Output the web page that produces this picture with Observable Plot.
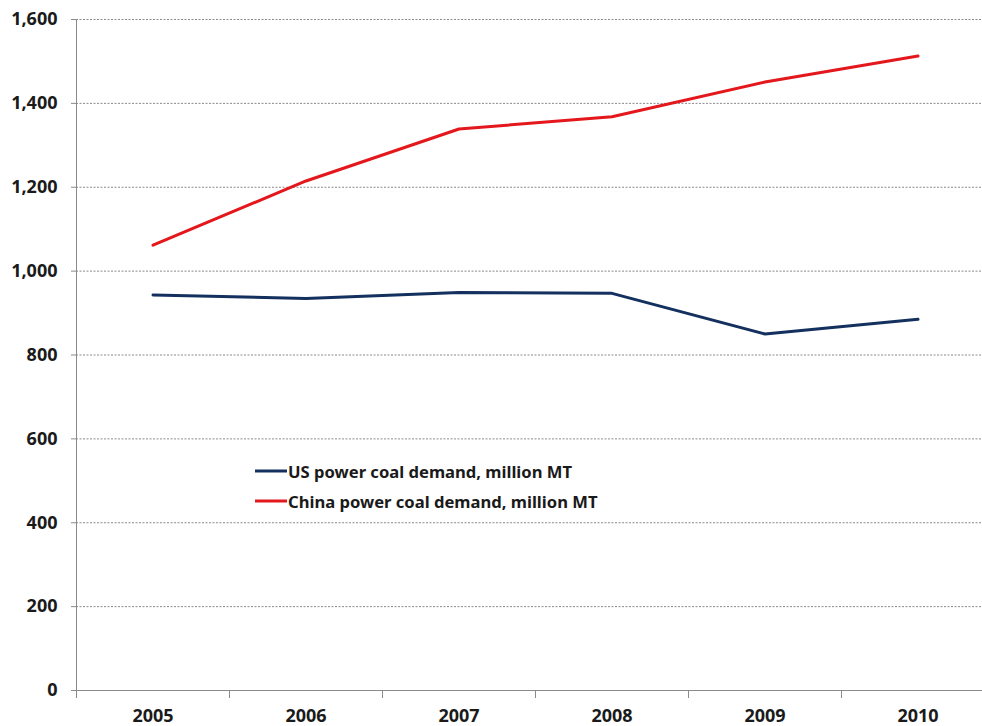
<!DOCTYPE html>
<html>
<head>
<meta charset="utf-8">
<script src="https://cdn.jsdelivr.net/npm/d3@7"></script>
<script src="https://cdn.jsdelivr.net/npm/@observablehq/plot@0.6"></script>
<style>
  html, body { margin: 0; padding: 0; background: #fff; overflow: hidden; }
  #wrap { position: relative; width: 982px; height: 726px; }
  #legend { position: absolute; left: 255px; top: 456px; font-family: "Noto Sans", sans-serif; font-weight: 700; font-size: 16.6px; color: #1a1a1a; }
  .item { display: flex; align-items: center; height: 30px; }
  .item svg { display: block; margin-right: 1px; }
</style>
</head>
<body>
<div id="wrap"></div>
<script>
// Power-sector coal demand, million metric tonnes
const years = [2005, 2006, 2007, 2008, 2009, 2010];
const usDemand = [943, 935, 949, 947, 850, 885];
const chinaDemand = [1062, 1215, 1339, 1368, 1451, 1513];
const yTicks = [0, 200, 400, 600, 800, 1000, 1200, 1400, 1600];
const seriesNames = ["US power coal demand, million MT", "China power coal demand, million MT"];
const seriesColors = ["#14305e", "#e3171c"];

// category boundaries between the years
const boundaries = [2004.5, 2005.5, 2006.5, 2007.5, 2008.5, 2009.5];

const rows = [
  ...years.map((year, i) => ({year, value: usDemand[i], series: seriesNames[0]})),
  ...years.map((year, i) => ({year, value: chinaDemand[i], series: seriesNames[1]}))
];

const font = "Noto Sans, sans-serif";

const chart = Plot.plot({
  width: 982,
  height: 726,
  marginLeft: 76,
  marginRight: 0,
  marginTop: 19,
  marginBottom: 36,
  style: {fontFamily: font, background: "#fff", color: "#1a1a1a"},
  x: {type: "linear", domain: [2004.5, 2010.5], range: [76, 994]},
  y: {domain: [0, 1600]},
  color: {domain: seriesNames, range: seriesColors},
  marks: [
    Plot.ruleY(yTicks.filter(d => d > 0), {stroke: "#8a8a8a", strokeWidth: 1, strokeDasharray: "2,1.5"}),
    Plot.axisY(yTicks, {
      tickSize: 5, tickPadding: 14, stroke: "#8a8a8a",
      tickFormat: d3.format(","), fontSize: 18, fontWeight: "bold", fill: "#1a1a1a", label: null
    }),
    Plot.axisX(boundaries, {tickSize: 8, stroke: "#8a8a8a", tickFormat: () => "", label: null}),
    Plot.axisX(years, {
      tickSize: 0, tickPadding: 19, tickFormat: d => String(d),
      fontSize: 18, fontWeight: "bold", fill: "#1a1a1a", label: null
    }),
    Plot.ruleX([2004.5], {stroke: "#8a8a8a", strokeWidth: 1}),
    Plot.ruleY([0], {stroke: "#8a8a8a", strokeWidth: 1}),
    Plot.line(rows, {x: "year", y: "value", z: "series", stroke: "series", strokeWidth: 3, strokeLinejoin: "round"})
  ]
});

const wrap = document.getElementById("wrap");
wrap.appendChild(chart);

// legend inside the plot area
const legend = document.createElement("div");
legend.id = "legend";
seriesNames.forEach((name, i) => {
  const item = document.createElement("div");
  item.className = "item";
  item.innerHTML = `<svg width="32" height="6"><line x1="0" x2="32" y1="3" y2="3" stroke="${seriesColors[i]}" stroke-width="3"/></svg><span>${name}</span>`;
  legend.appendChild(item);
});
wrap.appendChild(legend);
</script>
</body>
</html>
